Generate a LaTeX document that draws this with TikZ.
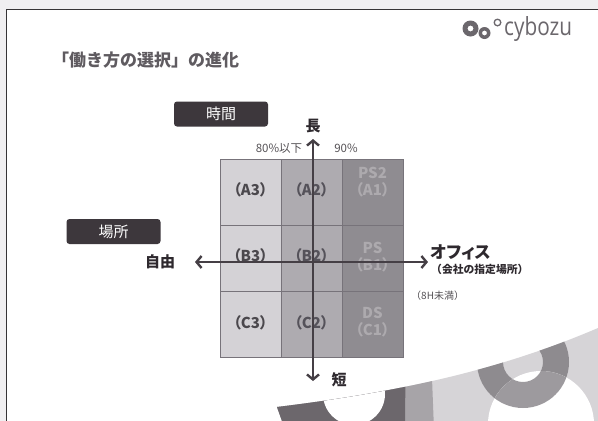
\documentclass[tikz,border=0pt]{standalone}
\usepackage{fontspec}
\usepackage{graphicx}
\setmainfont{Noto Sans CJK JP}[RawFeature=+palt]
\newfontfamily\jpfull{Noto Sans CJK JP}
\newfontfamily\logofont{Open Sans}
\usetikzlibrary{arrows.meta}

\definecolor{pagebg}{HTML}{F0EFF1}
\definecolor{frameline}{HTML}{363436}
\definecolor{titlegray}{HTML}{5F5B60}
\definecolor{logogray}{HTML}{6B676C}
\definecolor{badgefill}{HTML}{3D373C}
\definecolor{inkdark}{HTML}{2E292E}
\definecolor{notegray}{HTML}{555256}
\definecolor{gridline}{HTML}{77737A}
\definecolor{colthree}{HTML}{D4D2D6}
\definecolor{coltwo}{HTML}{AEABB0}
\definecolor{colone}{HTML}{8F8C91}
\definecolor{txtthree}{HTML}{4B484D}
\definecolor{txttwo}{HTML}{55525A}
\definecolor{txtone}{HTML}{ADAAAE}
\definecolor{axiscol}{HTML}{453F45}
\definecolor{decolight}{HTML}{D6D4D7}
\definecolor{decomid}{HTML}{A7A4A8}
\definecolor{decodark}{HTML}{6C676C}
\definecolor{decoring}{HTML}{8E8B8F}
\definecolor{decoringlight}{HTML}{9D9A9E}

\tikzset{
  cellbox/.style={draw=gridline, line width=1pt, minimum width=61pt, minimum height=66pt, inner sep=0pt},
  celltext/.style={font=\bfseries\fontsize{15}{17}\selectfont, align=center, inner sep=0pt},
  badge/.style={fill=badgefill, rounded corners=3pt, text=white, font=\fontsize{15}{18}\selectfont,
    minimum width=94pt, minimum height=25pt, inner sep=0pt},
  axislabel/.style={text=inkdark, font=\bfseries\fontsize{15}{18}\selectfont, inner sep=0pt},
  note/.style={text=notegray, font=\fontsize{11.5}{13}\selectfont, inner sep=0pt},
  axis/.style={draw=axiscol, line width=2.4pt,
    {Straight Barb[length=5pt,width=12pt]}-{Straight Barb[length=5pt,width=12pt]}},
}

\begin{document}
\begin{tikzpicture}[x=1pt, y=-1pt]
\useasboundingbox (0,0) rectangle (598,421);

% page background and slide frame
\fill[pagebg] (0,0) rectangle (598,421);
\fill[white] (6.5,9.5) rectangle (600,423);
\draw[frameline, line width=1.5pt] (6.5,423) -- (6.5,9.5) -- (600,9.5);

% decorative shapes in the lower right corner
\begin{scope}
  \clip (282,430) -- (282,421) -- (277,407)
        .. controls (400,392) and (500,370) .. (598,328) -- (605,328) -- (605,430) -- cycle;
  \fill[decolight] (260,300) rectangle (605,430);
  \fill[decomid] (260,300) -- (429,300) -- (434,430) -- (260,430) -- cycle;
  \fill[decodark] (260,300) -- (406,300) -- (405,430) -- (260,430) -- cycle;
  \fill[white] (354,394) circle (31pt);
  \fill[decoring, even odd rule] (523,362) circle (46pt) (523,362) circle (20pt);
  \fill[white] (541,424) circle (53pt);
  \begin{scope}
    \clip (541,424) circle (53pt);
    \fill[decoringlight, even odd rule] (523,362) circle (46pt) (523,362) circle (20pt);
  \end{scope}
\end{scope}

% logo
\fill[logogray, even odd rule] (470.5,28.5) circle (8pt) (470.5,28.5) circle (3pt);
\fill[logogray, even odd rule] (484.5,33) circle (6pt) (484.5,33) circle (2.5pt);
\fill[logogray, even odd rule] (497.5,22.5) circle (4pt) (497.5,22.5) circle (2.6pt);
\node[anchor=west, text=logogray, inner sep=0pt, font=\logofont\fontsize{25}{28}\selectfont]
  (logo) at (504,29) {\scalebox{0.83}[1]{cybozu}};

% title
\node[anchor=west, text=titlegray, inner sep=0pt, font=\jpfull\bfseries\fontsize{17}{20}\selectfont]
  (title) at (52,60) {「働き方の選択」の進化};

% axis badges
\node[badge] (timebadge) at (221,114) {時間};
\node[badge] (placebadge) at (113.5,231.5) {場所};

% grid of cells
\node[cellbox, fill=colthree] (a3) at (250.5,192) {};
\node[cellbox, fill=coltwo]   (a2) at (311.5,192) {};
\node[cellbox, fill=colone]   (a1) at (372.5,192) {};
\node[cellbox, fill=colthree] (b3) at (250.5,258) {};
\node[cellbox, fill=coltwo]   (b2) at (311.5,258) {};
\node[cellbox, fill=colone]   (b1) at (372.5,258) {};
\node[cellbox, fill=colthree] (c3) at (250.5,324) {};
\node[cellbox, fill=coltwo]   (c2) at (311.5,324) {};
\node[cellbox, fill=colone]   (c1) at (372.5,324) {};

% cell labels
\node[celltext, text=txtthree] (ta3) at (250.5,190) {（A3）};
\node[celltext, text=txttwo]   (ta2) at (311.5,190) {（A2）};
\node[celltext, text=txtone]   (ta1) at (372.5,182) {PS2\\（A1）};
\node[celltext, text=txtthree] (tb3) at (250.5,256) {（B3）};
\node[celltext, text=txttwo]   (tb2) at (311.5,256) {（B2）};
\node[celltext, text=txtone]   (tb1) at (372.5,257) {PS\\（B1）};
\node[celltext, text=txtthree] (tc3) at (250.5,323) {（C3）};
\node[celltext, text=txttwo]   (tc2) at (311.5,323) {（C2）};
\node[celltext, text=txtone]   (tc1) at (372.5,322) {DS\\（C1）};

% axes
\coordinate (vtop) at (313,139);
\coordinate (vbot) at (313,381);
\coordinate (hleft) at (195,262);
\coordinate (hright) at (428,262);
\draw[axis] (vbot) -- (vtop);
\draw[axis] (hleft) -- (hright);

% axis labels
\node[axislabel] (long) at (313,126) {長};
\node[axislabel] (short) at (339,380) {短};
\node[axislabel] (free) at (160,262) {自由};
\node[axislabel, anchor=west, font=\bfseries\fontsize{17}{19}\selectfont] (office) at (430,252) {オフィス};
\node[axislabel, anchor=west, font=\jpfull\bfseries\fontsize{10.8}{12}\selectfont] (officesub) at (431,269) {（会社の指定場所）};

% notes
\node[note] (eighty) at (279,148) {80\%以下};
\node[note] (ninety) at (346,148) {90\%};
\node[note, anchor=west, font=\jpfull\fontsize{10}{12}\selectfont] (under8h) at (411,296) {（8H未満）};

\end{tikzpicture}
\end{document}
